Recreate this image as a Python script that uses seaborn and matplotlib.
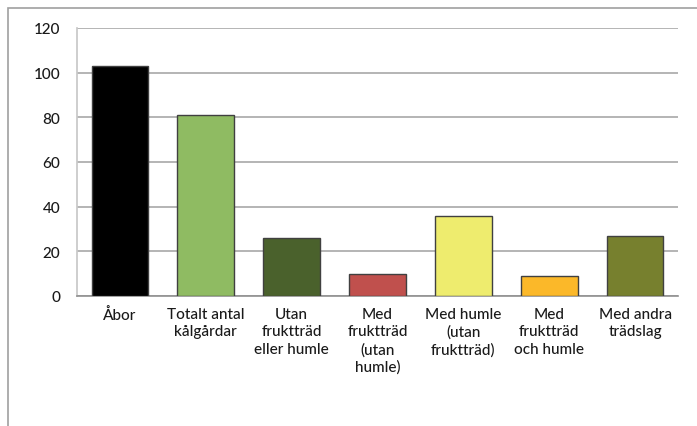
import matplotlib
matplotlib.use("Agg")
import matplotlib.pyplot as plt
import seaborn as sns
import pandas as pd
from matplotlib.patches import Rectangle

categories = ["Åbor", "Totalt antal\nkålgårdar", "Utan\nfruktträd\neller humle",
              "Med\nfruktträd\n(utan\nhumle)", "Med humle\n(utan\nfruktträd)",
              "Med\nfruktträd\noch humle", "Med andra\nträdslag"]
values = [103, 81, 26, 10, 36, 9, 27]
colors = ["#000000", "#8fbb62", "#4a612c", "#c0504d", "#eeec6e", "#fbb829", "#77802e"]
yticks = [0, 20, 40, 60, 80, 100, 120]

sns.set_theme(style="white")
plt.rcParams['font.family'] = ['Lato', 'DejaVu Sans']

df = pd.DataFrame({"cat": categories, "val": values})
fig = plt.figure(figsize=(6.97, 4.27), dpi=100)
fig.patch.set_facecolor("white")
fig.patches.append(Rectangle((8/697, -0.1), 1.0, (427-9)/427 + 0.1, transform=fig.transFigure,
                             fill=False, edgecolor="#a0a0a0", linewidth=1.2, zorder=0))
ax = fig.add_axes([77/697, 1 - 297/427, (678-77)/697, (297-29)/427])
sns.barplot(data=df, x="cat", y="val", hue="cat", palette=colors, legend=False,
            saturation=1, width=0.66, edgecolor="#404040", linewidth=1.0, ax=ax, zorder=3)
ax.set_ylim(0, 120)
ax.set_xlim(-0.5, len(categories) - 0.5)
ax.set_yticks(yticks)
ax.set_yticklabels([str(t) for t in yticks])
ax.yaxis.grid(True, color="#a8a8a8", linewidth=1.2, zorder=0)
ax.set_axisbelow(True)
ax.set_xlabel("")
ax.set_ylabel("")
for s in ["top", "right"]:
    ax.spines[s].set_visible(False)
ax.spines["left"].set_color("#c8c8c8")
ax.spines["bottom"].set_color("#909090")
ax.spines["bottom"].set_linewidth(1.2)
ax.tick_params(axis="y", labelsize=11, pad=12, colors="#1a1a1a", length=0)
ax.tick_params(axis="x", labelsize=11, pad=8, colors="#1a1a1a", length=0)
for lbl in ax.get_xticklabels() + ax.get_yticklabels():
    lbl.set_fontweight("medium")
for lbl in ax.get_xticklabels():
    lbl.set_linespacing(1.3)
    lbl.set_horizontalalignment("center")
fig.savefig("out.png", dpi=100)
